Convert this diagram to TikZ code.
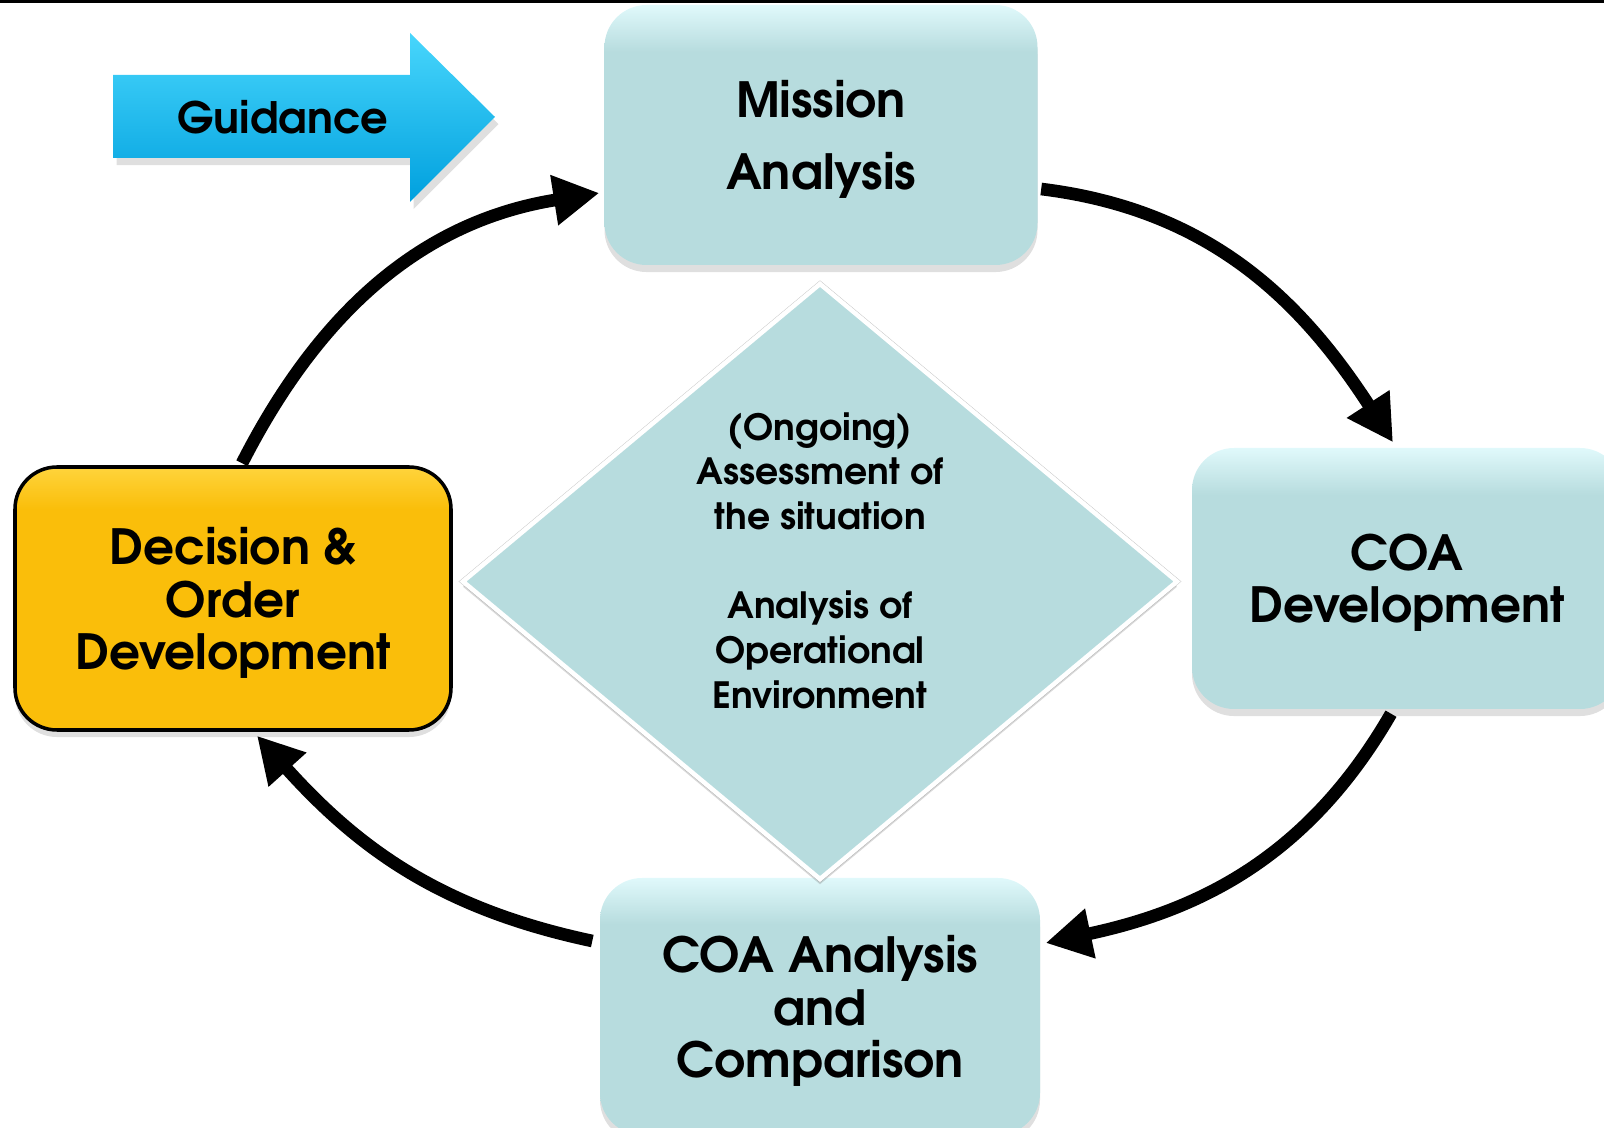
\documentclass[tikz,border=0pt]{standalone}
\usepackage{fontspec}
\setmainfont{texgyreadventor-regular.otf}[BoldFont=texgyreadventor-bold.otf]
\usetikzlibrary{shapes.geometric,shadows,arrows.meta,calc}

\definecolor{boxteal}{RGB}{183,220,222}
\definecolor{boxtop}{RGB}{224,249,251}
\definecolor{decyellow}{RGB}{250,190,10}
\definecolor{dectop}{RGB}{255,212,60}
\definecolor{guidelight}{RGB}{72,214,252}
\definecolor{guidedark}{RGB}{0,160,222}

\pgfdeclareverticalshading{tealface}{100bp}{color(0bp)=(boxteal); color(66bp)=(boxteal); color(75bp)=(boxtop); color(100bp)=(boxtop)}
\pgfdeclareverticalshading{yellowface}{100bp}{color(0bp)=(decyellow); color(67bp)=(decyellow); color(75bp)=(dectop); color(100bp)=(dectop)}

\begin{document}
\begin{tikzpicture}[
  stage/.style={rectangle, rounded corners=0.42cm, shade, shading=tealface,
    minimum width=4.33cm, minimum height=2.6cm, inner sep=0pt, align=center, text depth=0pt,
    font=\fontsize{13.8}{14.9}\selectfont\bfseries,
    drop shadow={shadow xshift=0pt, shadow yshift=-2pt, opacity=0.25}},
  cyclearrow/.style={line width=3.6pt, -{Triangle[length=13pt,width=13.6pt]}},
]
  \useasboundingbox (0,0) rectangle (16.04,11.28);
  \draw[line width=0.03cm] (0,11.265) -- (16.04,11.265);

  % guidance arrow
  \path
    coordinate (tailtop) at (1.13,10.53)
    coordinate (necktop) at (4.10,10.53)
    coordinate (headtop) at (4.10,10.95)
    coordinate (tip)     at (4.95,10.11)
    coordinate (headbot) at (4.10,9.26)
    coordinate (neckbot) at (4.10,9.70)
    coordinate (tailbot) at (1.13,9.70)
  ;
  \shade[top color=guidelight, bottom color=guidedark,
    drop shadow={shadow xshift=1pt, shadow yshift=-2pt, opacity=0.25}]
    (tailtop) -- (necktop) -- (headtop) -- (tip) -- (headbot) -- (neckbot) -- (tailbot) -- cycle;
  \node (guidance) at (2.83,10.11) {\fontsize{12.3}{14}\selectfont\bfseries Guidance};

  % the four stages
  \node (mission) [stage, font=\fontsize{13.8}{20.6}\selectfont\bfseries] at (8.21,9.93) {Mission\\Analysis};
  \node (cdev) [stage, minimum width=4.30cm, minimum height=2.61cm] at (14.07,5.495) {COA\\Development};
  \node (coaa) [stage, minimum width=4.40cm, minimum height=2.57cm] at (8.20,1.215) {COA Analysis\\and\\Comparison};
  \node (decision) [stage, draw=black, line width=1pt, shading=yellowface,
    minimum width=4.36cm, minimum height=2.63cm] at (2.33,5.295) {Decision \&\\Order\\Development};

  % centre
  \node (assess) [diamond, fill=boxteal, draw=white, line width=1.3pt, inner sep=0pt,
    minimum width=7.16cm, minimum height=5.97cm,
    general shadow={fill=black!45, shadow scale=1.012, opacity=0.5},
    drop shadow={shadow xshift=0pt, shadow yshift=-1.5pt, opacity=0.3}] at (8.20,5.465) {};
  \node (assesstext) [align=center, font=\fontsize{10.3}{12.7}\selectfont\bfseries]
    at ($(assess.center)+(0,0.21)$)
    {(Ongoing)\\Assessment of\\the situation\\[12.7pt]Analysis of\\Operational\\Environment};

  \draw[cyclearrow] ($(mission.east)+(0.03,-0.54)$) to[out=-7, in=123] ($(cdev.north)+(-0.14,0.05)$);
  \draw[cyclearrow] ($(cdev.south)+(-0.16,-0.04)$) to[out=-120, in=12] ($(coaa.east)+(0.05,0.635)$);
  \draw[cyclearrow] ($(coaa.west)+(-0.07,0.655)$) to[out=168, in=-48] ($(decision.south)+(0.24,-0.04)$);
  \draw[cyclearrow] ($(decision.north)+(0.09,0.02)$) to[out=63, in=189] ($(mission.west)+(-0.045,-0.58)$);
\end{tikzpicture}
\end{document}
